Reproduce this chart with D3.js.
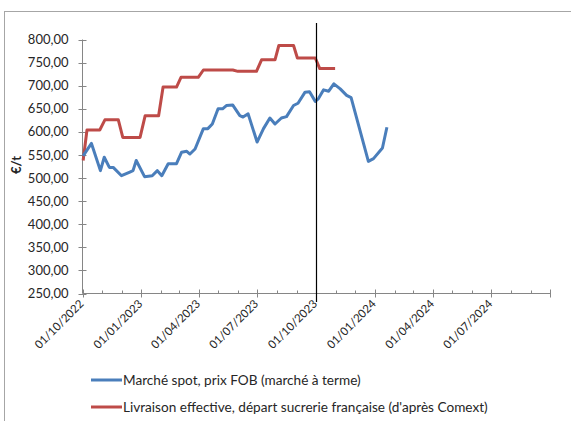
<!DOCTYPE html>
<html>
<head>
<meta charset="utf-8">
<script src="https://cdn.jsdelivr.net/npm/d3@7"></script>
<style>
  html, body { margin: 0; padding: 0; background: #fff; }
  svg { display: block; }
  text { font-family: Lato, "Open Sans", sans-serif; fill: #262626; }
</style>
</head>
<body>
<svg id="chart" width="571" height="421"></svg>
<script>
// ---- Data ----
const spotDates = ["2022-10-02","2022-10-15","2022-10-29","2022-11-04","2022-11-12","2022-11-18","2022-12-01","2022-12-14","2022-12-19","2022-12-24",
  "2023-01-06","2023-01-18","2023-01-26","2023-02-02","2023-02-12","2023-02-25","2023-03-05","2023-03-13","2023-03-18","2023-03-26",
  "2023-04-08","2023-04-15","2023-04-22","2023-05-01","2023-05-08","2023-05-14","2023-05-24","2023-06-04","2023-06-09","2023-06-17",
  "2023-07-01","2023-07-11","2023-07-21","2023-07-29","2023-08-08","2023-08-16","2023-08-27","2023-09-03","2023-09-14","2023-09-21",
  "2023-09-30","2023-10-05","2023-10-13","2023-10-21","2023-10-29","2023-11-08","2023-11-18","2023-11-25","2023-12-22","2023-12-30",
  "2024-01-13","2024-01-20"];
const spotValues = [548,575,516,545,523,523,505,513,516,538,
  503,505,516,505,531,531,556,558,552,563,
  607,607,617,650,650,657,658,635,632,639,
  578,607,630,617,630,633,657,662,686,687,
  666,672,691,688,704,693,679,674,536,542,
  565,610];

const deliveryDates = ["2022-10-02","2022-10-08","2022-10-28","2022-11-05","2022-11-26","2022-12-03","2022-12-30","2023-01-07","2023-01-28","2023-02-04",
  "2023-02-25","2023-03-04","2023-03-31","2023-04-08","2023-05-24","2023-06-01","2023-06-30","2023-07-08","2023-07-29","2023-08-04",
  "2023-08-27","2023-09-02","2023-09-30","2023-10-07","2023-10-31"];
const deliveryValues = [538,604,604,626,626,588,588,635,635,697,
  697,718,718,734,734,731,731,756,756,787,
  787,760,760,737,737];

const xTickLabels = ["01/10/2022","01/01/2023","01/04/2023","01/07/2023","01/10/2023","01/01/2024","01/04/2024","01/07/2024"];
const yTickValues = [250,300,350,400,450,500,550,600,650,700,750,800];
const seriesNames = ["Marché spot, prix FOB (marché à terme)", "Livraison effective, départ sucrerie française (d'après Comext)"];
const seriesColors = ["#4A7EBB", "#BE4B48"];
const yTitle = "€/t";
const markerDate = "2023-10-01";

// ---- Chart ----
const parse = d3.timeParse("%Y-%m-%d");
const parseLbl = d3.timeParse("%d/%m/%Y");
const svg = d3.select("#chart");

const x = d3.scaleTime()
  .domain([parse("2022-10-01"), parse("2024-10-01")])
  .range([82.5, 550]);
const y = d3.scaleLinear().domain([250, 800]).range([293.5, 39.5]);

// outer frame
svg.append("rect").attr("x", 4.5).attr("y", 11.5).attr("width", 620).attr("height", 500)
  .attr("fill", "none").attr("stroke", "#a6a6a6").attr("stroke-width", 1);

const axisColor = "#868686";

// y axis
const yAxis = svg.append("g").attr("transform", "translate(82.5,0)");
yAxis.append("line").attr("x1", 0).attr("x2", 0).attr("y1", y(800)).attr("y2", y(250))
  .attr("stroke", axisColor);
yAxis.selectAll("line.tk").data(yTickValues).join("line").attr("class", "tk")
  .attr("x1", -4).attr("x2", 4).attr("y1", d => Math.round(y(d)) + 0.5).attr("y2", d => Math.round(y(d)) + 0.5)
  .attr("stroke", axisColor);
const fmt = d3.format(".2f");
yAxis.selectAll("text").data(yTickValues).join("text")
  .attr("x", -14).attr("y", d => y(d)).attr("dy", "0.35em")
  .attr("text-anchor", "end").attr("font-size", 13)
  .text(d => fmt(d).replace(".", ","));

// y title
svg.append("text").attr("transform", "translate(21,165) rotate(-90)")
  .attr("text-anchor", "middle").attr("font-size", 13).attr("font-weight", "bold")
  .text(yTitle);

// x axis
const xAxis = svg.append("g").attr("transform", `translate(0,${y(250)})`);
xAxis.append("line").attr("x1", x.range()[0]).attr("x2", x.range()[1]).attr("y1", 0).attr("y2", 0)
  .attr("stroke", axisColor);
const months = d3.timeMonth.range(parse("2022-10-01"), d3.timeDay.offset(parse("2024-10-01"), 1));
xAxis.selectAll("line.mn").data(months).join("line").attr("class", "mn")
  .attr("x1", d => Math.round(x(d)) + 0.5).attr("x2", d => Math.round(x(d)) + 0.5)
  .attr("y1", d => d.getMonth() % 3 === 0 ? -4 : -3)
  .attr("y2", d => d.getMonth() % 3 === 0 ? 4 : 0)
  .attr("stroke", axisColor);
xAxis.selectAll("text").data(xTickLabels).join("text")
  .attr("transform", d => `translate(${x(parseLbl(d)) + 2},${11}) rotate(-45)`)
  .attr("text-anchor", "end").attr("font-size", 11.5)
  .text(d => d);

// lines
const line = d3.line().x(d => x(d[0])).y(d => y(d[1]));
const spot = spotDates.map((d, i) => [parse(d), spotValues[i]]);
const delivery = deliveryDates.map((d, i) => [parse(d), deliveryValues[i]]);
svg.append("path").datum(delivery).attr("d", line).attr("fill", "none")
  .attr("stroke", seriesColors[1]).attr("stroke-width", 3).attr("stroke-linejoin", "round");
svg.append("path").datum(spot).attr("d", line).attr("fill", "none")
  .attr("stroke", seriesColors[0]).attr("stroke-width", 3).attr("stroke-linejoin", "round");

// marker line
const mx = Math.round(x(parse(markerDate))) + 0.5;
svg.append("line").attr("x1", mx).attr("x2", mx).attr("y1", 23).attr("y2", 302)
  .attr("stroke", "#000").attr("stroke-width", 1.2);

// legend
const legend = svg.append("g");
seriesNames.forEach((name, i) => {
  const ly = 380 + i * 27;
  legend.append("line").attr("x1", 91).attr("x2", 122).attr("y1", ly).attr("y2", ly)
    .attr("stroke", seriesColors[i]).attr("stroke-width", 3);
  legend.append("text").attr("x", 123).attr("y", ly).attr("dy", "0.35em")
    .attr("font-size", 13.6).text(name);
});
</script>
</body>
</html>
